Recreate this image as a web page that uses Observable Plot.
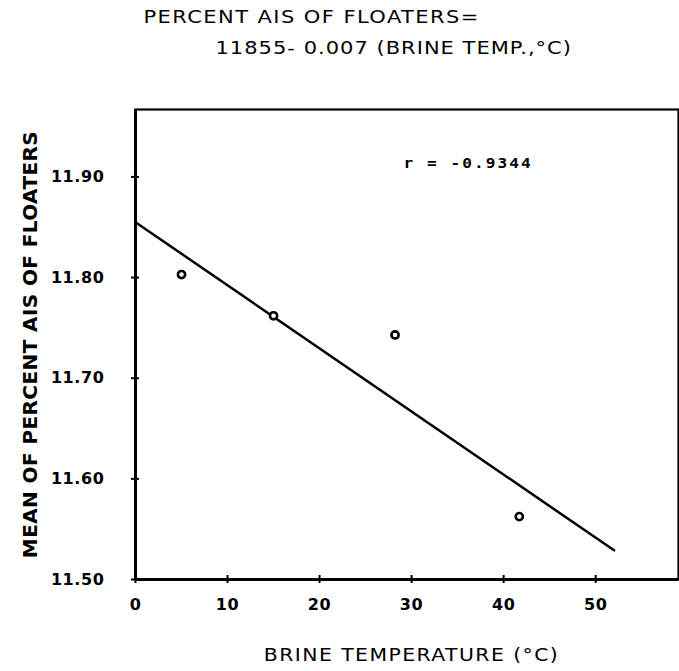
<!DOCTYPE html>
<html>
<head>
<meta charset="utf-8">
<script src="https://cdn.jsdelivr.net/npm/d3@7"></script>
<script src="https://cdn.jsdelivr.net/npm/@observablehq/plot@0.6"></script>
<style>
  html, body { margin: 0; padding: 0; background: #fff; }
  #chart { width: 679px; height: 671px; }
</style>
</head>
<body>
<div id="chart"></div>
<script>
// ---- data ----
const xTicks = [0, 10, 20, 30, 40, 50];
const yTicks = [11.5, 11.6, 11.7, 11.8, 11.9];
const yTickLabels = ["11.50", "11.60", "11.70", "11.80", "11.90"];
const brineTemp = [5, 15, 28.2, 41.7];
const meanPercentAIS = [11.803, 11.762, 11.743, 11.5625];
const fitTemp = [0, 52];
const fitPercent = [11.855, 11.529];
const titleLine1 = "PERCENT AIS OF FLOATERS=";
const titleLine2 = "11855- 0.007 (BRINE TEMP.,°C)";
const xTitle = "BRINE TEMPERATURE (°C)";
const yTitle = "MEAN OF PERCENT AIS OF FLOATERS";
const rText = "r = -0.9344";

const points = brineTemp.map((t, i) => ({t, v: meanPercentAIS[i]}));
const fit = fitTemp.map((t, i) => ({t, v: fitPercent[i]}));
const yLabelMap = new Map(yTicks.map((t, i) => [t, yTickLabels[i]]));

const font = "'DejaVu Sans', sans-serif";

const chart = Plot.plot({
  width: 679,
  height: 671,
  marginLeft: 135,
  marginRight: 1,
  marginTop: 109,
  marginBottom: 92,
  style: {fontFamily: font, color: "#000", background: "#fff"},
  x: {domain: [0, 59]},
  y: {domain: [11.5, 11.967]},
  marks: [
    Plot.frame({stroke: "#000", strokeWidth: 2.2}),
    Plot.ruleX([0], {stroke: "#000", strokeWidth: 3}),
    Plot.ruleY([11.5], {stroke: "#000", strokeWidth: 3}),
    Plot.axisX({ticks: xTicks, tickSize: 4, tickPadding: 15, tickFormat: d => String(d), fontSize: 16, fontWeight: "bold", label: null, strokeWidth: 2}),
    Plot.axisX({ticks: xTicks, tickSize: -4, text: null, label: null, strokeWidth: 2}),
    Plot.axisY({ticks: yTicks, tickSize: 4, tickPadding: 27, tickFormat: d => yLabelMap.get(d), fontSize: 16, fontWeight: "bold", label: null, strokeWidth: 2}),
    Plot.axisY({ticks: yTicks, tickSize: -4, text: null, label: null, strokeWidth: 2}),
    Plot.line(fit, {x: "t", y: "v", stroke: "#000", strokeWidth: 2.5}),
    Plot.dot(points, {x: "t", y: "v", r: 3.6, stroke: "#000", strokeWidth: 2.6, fill: "#fff"}),
    Plot.text([rText], {text: d => d, frameAnchor: "top-left", dx: 268, dy: 54, textAnchor: "start", lineAnchor: "middle", fontSize: 14, fontWeight: "bold", fontFamily: "'DejaVu Sans Mono', monospace"}),
    Plot.text([titleLine1], {text: d => d, frameAnchor: "top-left", dx: 8, dy: -92, textAnchor: "start", lineAnchor: "middle", fontSize: 17.5}),
    Plot.text([titleLine2], {text: d => d, frameAnchor: "top-left", dx: 80, dy: -61, textAnchor: "start", lineAnchor: "middle", fontSize: 17.5}),
    Plot.text([xTitle], {text: d => d, frameAnchor: "bottom", dx: 4.5, dy: 76, lineAnchor: "middle", fontSize: 17}),
    Plot.text([yTitle], {text: d => d, frameAnchor: "left", dx: -105, rotate: -90, textAnchor: "middle", lineAnchor: "middle", fontSize: 20, fontWeight: "bold"})
  ]
});

// wide hand-lettering look: horizontal stretch + letter spacing
const lettering = new Map([
  [titleLine1, {sx: 1.2, ls: "1.2px"}],
  [titleLine2, {sx: 1.2, ls: "0.85px"}],
  [xTitle, {sx: 1.2, ls: "1.2px"}],
  [yTitle, {sx: 1, ls: "0.4px"}],
  [rText, {sx: 1.15, ls: "1.8px"}]
]);
d3.select(chart).selectAll("text").each(function () {
  const s = lettering.get(this.textContent);
  if (!s) return;
  this.style.letterSpacing = s.ls;
  if (s.sx !== 1) {
    let tr = this.getAttribute("transform");
    if (!tr) {
      const x = +this.getAttribute("x") || 0, y = +this.getAttribute("y") || 0;
      this.removeAttribute("x"); this.removeAttribute("y");
      tr = `translate(${x},${y})`;
    }
    this.setAttribute("transform", `${tr} scale(${s.sx},1)`);
  }
});
d3.select(chart).selectAll('g[aria-label="y-axis tick label"] text, g[aria-label="x-axis tick label"] text')
  .style("letter-spacing", "0.6px");

document.getElementById("chart").appendChild(chart);
</script>
</body>
</html>
